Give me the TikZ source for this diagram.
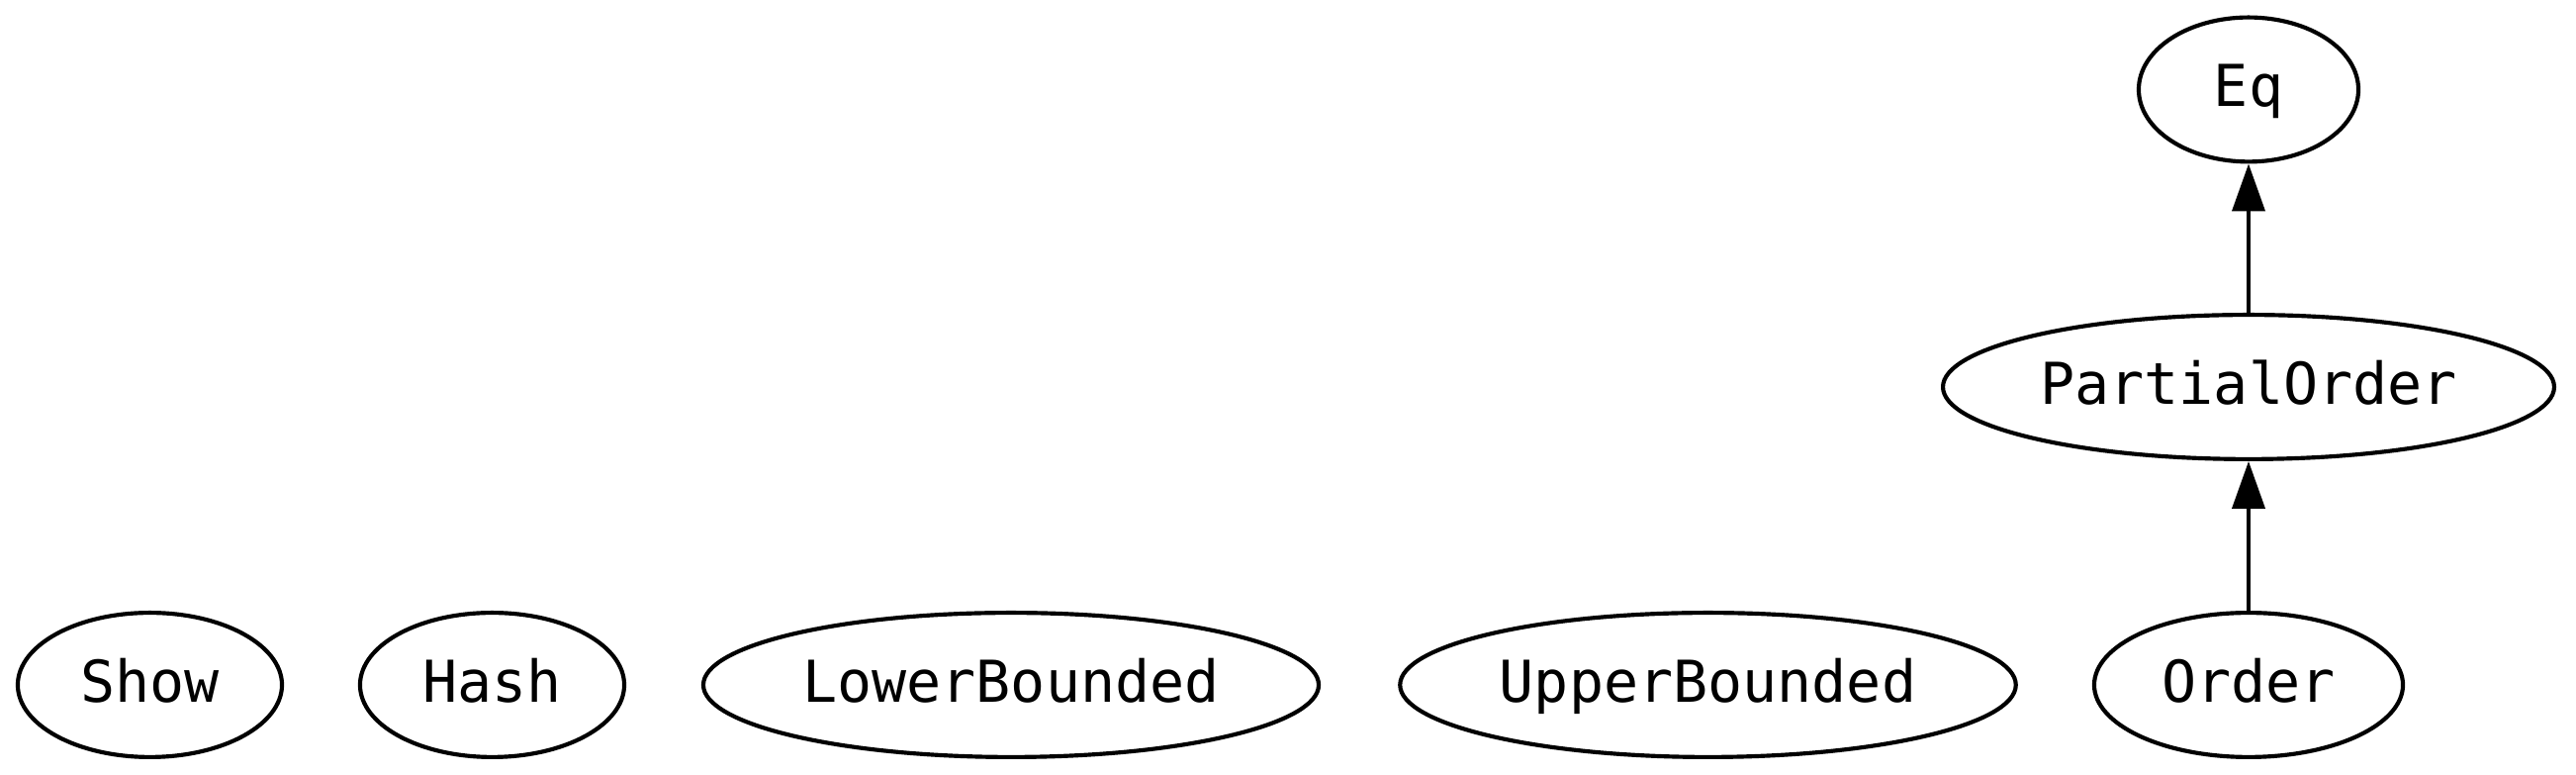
\documentclass[tikz,border=0pt]{standalone}
\usepackage{fontspec}
\setmonofont{DejaVu Sans Mono}
\usetikzlibrary{shapes.geometric,arrows.meta}
\begin{document}
\begin{tikzpicture}[x=0.24pt, y=0.24pt, >={Triangle[length=11.5pt,width=7.9pt]}, line join=round, line width=1pt,
		font=\ttfamily\fontsize{14pt}{17pt}\selectfont,
		cls/.style={ellipse, draw, inner sep=0pt, text height=11pt, text depth=2.8pt, minimum height=35pt}]
	\useasboundingbox (0,0) rectangle (2604,783);
	% bottom row
	\node[cls, minimum width=64.1pt] (show) at (151.5,91) {Show};
	\node[cls, minimum width=64.1pt] (hash) at (497.5,91) {Hash};
	\node[cls, minimum width=149.3pt] (lower) at (1022,91) {LowerBounded};
	\node[cls, minimum width=149.4pt] (upper) at (1726.5,91) {UpperBounded};
	\node[cls, minimum width=74.9pt] (order) at (2273,91) {Order};
	% upper ranks
	\node[cls, minimum width=148.3pt] (partial) at (2273,392) {PartialOrder};
	\node[cls, minimum width=53.3pt] (eq) at (2273,692.5) {Eq};
	\draw[->] (order) -- (partial);
	\draw[->] (partial) -- (eq);
\end{tikzpicture}
\end{document}
